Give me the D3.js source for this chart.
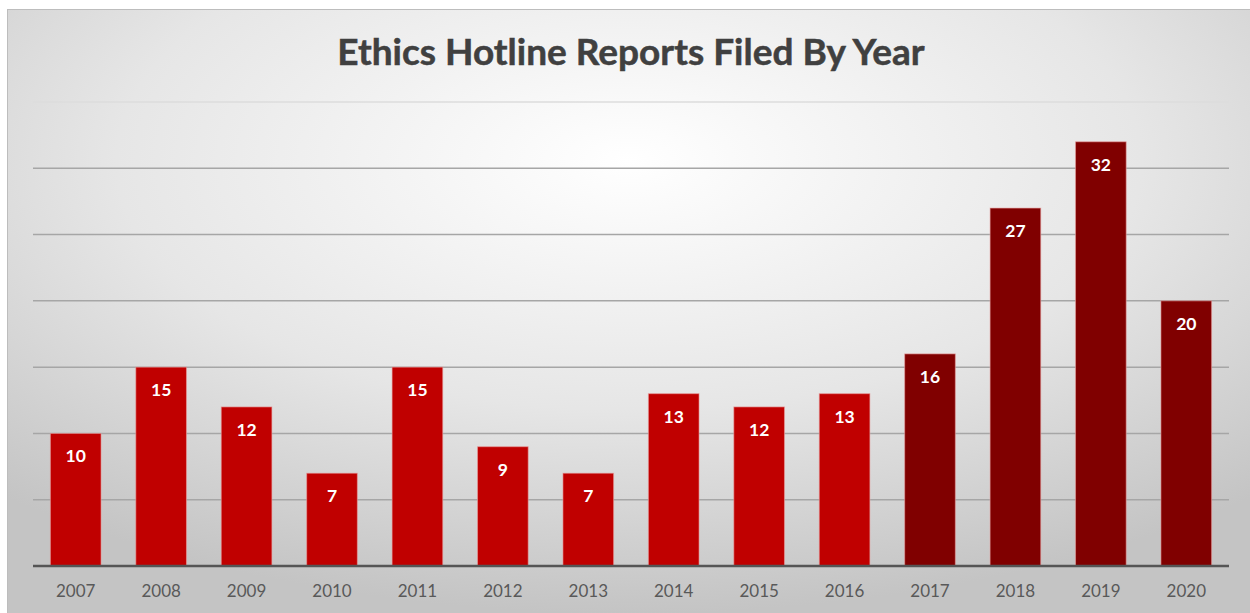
<!DOCTYPE html>
<html>
<head>
<meta charset="utf-8">
<script src="https://cdn.jsdelivr.net/npm/d3@7"></script>
<style>
  body { margin: 0; background: #fff; }
  svg { display: block; }
</style>
</head>
<body>
<svg></svg>
<script>
const W = 1250, H = 613;
const margin = { top: 102, right: 21, bottom: 47, left: 33 };

const years = ["2007", "2008", "2009", "2010", "2011", "2012", "2013",
               "2014", "2015", "2016", "2017", "2018", "2019", "2020"];
const reports = [10, 15, 12, 7, 15, 9, 7, 13, 12, 13, 16, 27, 32, 20];
const gridTicks = [5, 10, 15, 20, 25, 30, 35];

const svg = d3.select("svg").attr("width", W).attr("height", H);

// background panel with radial gradient
const defs = svg.append("defs");
const grad = defs.append("radialGradient").attr("id", "bg")
    .attr("cx", "50%").attr("cy", "25%").attr("r", "75%");
grad.append("stop").attr("offset", "0%").attr("stop-color", "#ffffff");
grad.append("stop").attr("offset", "55%").attr("stop-color", "#e6e6e6");
grad.append("stop").attr("offset", "100%").attr("stop-color", "#c4c4c4");

svg.append("rect")
    .attr("x", 7.5).attr("y", 9.5).attr("width", W - 7).attr("height", H - 9)
    .attr("fill", "url(#bg)").attr("stroke", "#bdbdbd").attr("stroke-width", 1);

const x = d3.scaleBand().domain(years)
    .range([margin.left, W - margin.right]).paddingInner(0.407).paddingOuter(0.2035);
const y = d3.scaleLinear().domain([0, 35])
    .range([H - margin.bottom, margin.top]);

// gridlines
svg.append("g").selectAll("line").data(gridTicks).join("line")
    .attr("x1", margin.left).attr("x2", W - margin.right)
    .attr("y1", d => y(d)).attr("y2", d => y(d))
    .attr("stroke", d => d === 35 ? "#dcdcdc" : "#a6a6a6")
    .attr("stroke-width", 1.5);

// title
svg.append("text")
    .attr("x", 631).attr("y", 65)
    .attr("text-anchor", "middle")
    .attr("font-family", "Lato, 'Open Sans', sans-serif")
    .attr("font-weight", "bold")
    .attr("font-size", 37)
    .attr("fill", "#404040")
    .attr("stroke", "#404040").attr("stroke-width", 0.5)
    .text("Ethics Hotline Reports Filed By Year");

// bars
svg.append("g").selectAll("rect").data(years).join("rect")
    .attr("x", d => x(d))
    .attr("width", x.bandwidth())
    .attr("y", (d, i) => y(reports[i]))
    .attr("height", (d, i) => y(0) - y(reports[i]))
    .attr("fill", d => +d >= 2017 ? "#800000" : "#c00000")
    .attr("stroke", "#e8a0a0").attr("stroke-opacity", 0.6).attr("stroke-width", 1);

// value labels
svg.append("g").selectAll("text").data(years).join("text")
    .attr("x", d => x(d) + x.bandwidth() / 2)
    .attr("y", (d, i) => y(reports[i]) + 29)
    .attr("text-anchor", "middle")
    .attr("font-family", "Lato, 'Open Sans', sans-serif")
    .attr("font-weight", "bold")
    .attr("font-size", 17.5)
    .attr("fill", "#ffffff")
    .text((d, i) => reports[i]);

// x axis
const xAxis = svg.append("g")
    .attr("transform", `translate(0, ${y(0)})`)
    .call(d3.axisBottom(x).tickSize(0).tickPadding(19));
xAxis.select(".domain").attr("stroke", "#555555").attr("stroke-width", 2.5)
    .attr("d", `M${margin.left},0H${W - margin.right}`);
xAxis.selectAll("text")
    .attr("font-family", "Lato, 'Open Sans', sans-serif")
    .attr("font-size", 17)
    .attr("fill", "#595959");
</script>
</body>
</html>
